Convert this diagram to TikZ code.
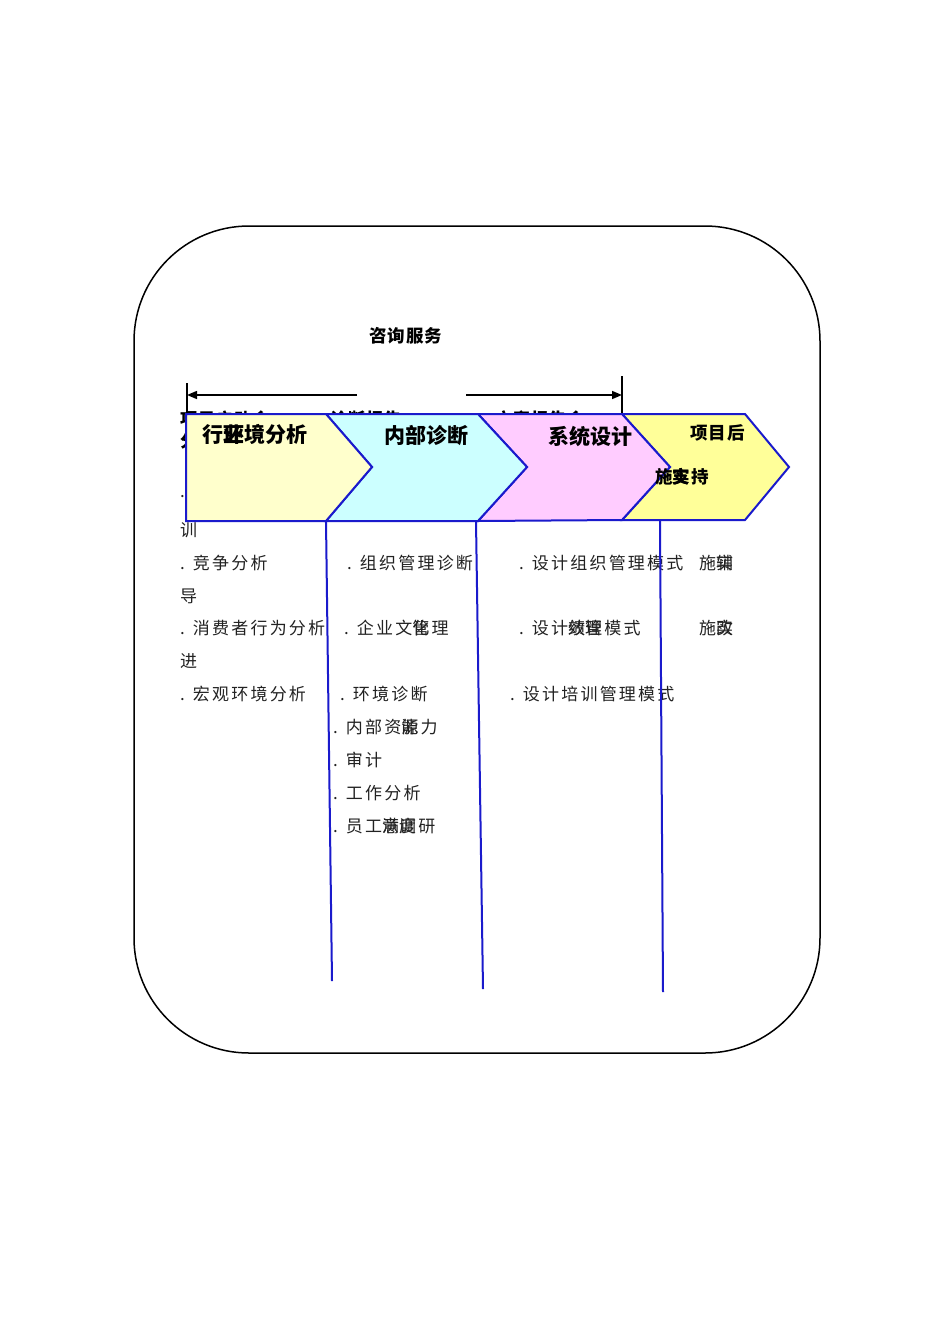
\documentclass[tikz,border=0pt]{standalone}
\usepackage{fontspec}
\setmainfont{Noto Sans CJK SC}
\newfontfamily\cjk{Noto Sans CJK SC}
\newfontfamily\cjksp[LetterSpace=13]{Noto Sans CJK SC}
\newfontfamily\cjkhs[LetterSpace=6]{Noto Sans CJK SC}
\usetikzlibrary{arrows.meta}
\definecolor{chevA}{HTML}{FFFFCC}
\definecolor{chevB}{HTML}{CCFFFF}
\definecolor{chevC}{HTML}{FFCCFF}
\definecolor{chevD}{HTML}{FFFF99}
\definecolor{edgeblue}{HTML}{1A1ACC}
\definecolor{itemgray}{HTML}{222222}
\newcommand\ov[2]{\rlap{#1}#2}
\tikzset{
  item/.style={anchor=west, inner sep=0pt, text=itemgray, font=\cjksp\fontsize{17}{17}\selectfont},
  headbig/.style={anchor=west, inner sep=0pt, font=\cjk\bfseries\fontsize{21}{21}\selectfont},
  headsmall/.style={anchor=west, inner sep=0pt, font=\cjkhs\bfseries\fontsize{17.5}{17.5}\selectfont},
  hidden/.style={anchor=west, inner sep=0pt, font=\cjkhs\bfseries\fontsize{17}{17}\selectfont},
  chev/.style={draw=edgeblue, line width=2pt, line join=miter},
  stem/.style={draw=edgeblue, line width=2pt},
  dim/.style={draw=black, line width=1.5pt, -{Triangle[length=10pt,width=8pt]}},
  tick/.style={draw=black, line width=1.5pt},
  frame/.style={draw=black, line width=1.5pt, rounded corners=115pt}
}
\begin{document}
\begin{tikzpicture}[x=1pt,y=-1pt]
\useasboundingbox (0,0) rectangle (950,1344);
\fill[white] (0,0) rectangle (950,1344);
% outer frame
\draw[frame] (134,226) rectangle (820,1053);
% title
\node[headsmall] (title) at (369,336) {咨询服务};
% dimension arrows
\coordinate (la) at (357,395);
\coordinate (lb) at (187,395);
\coordinate (ra) at (466,395);
\coordinate (rb) at (622,395);
\coordinate (lt1) at (187,383);
\coordinate (lt2) at (187,414);
\coordinate (rt1) at (622,376);
\coordinate (rt2) at (622,414);
\draw[dim] (la) -- (lb);
\draw[dim] (ra) -- (rb);
\draw[tick] (lt1) -- (lt2);
\draw[tick] (rt1) -- (rt2);
% texts hidden behind chevrons
\node[hidden] (h1) at (180,419) {项目启动会};
\node[hidden] (h2) at (180,441) {分};
\node[hidden] (h3) at (330,419) {诊断报告};
\node[hidden] (h4) at (495,419) {方案报告会};
\node[item] (h5) at (180,497) {.};
% column texts
\node[item] (a1) at (180,530) {训};
\node[item] (a2) at (180,563) {. 竞争分析};
\node[item] (a3) at (180,596) {导};
\node[item] (a4) at (180,628) {. 消费者行为分析};
\node[item] (a5) at (180,661) {进};
\node[item] (a6) at (180,694) {. 宏观环境分析};
\node[item] (b1) at (347,563) {. 组织管理诊断};
\node[item] (b2) at (344,628) {. 企业文\ov{化}{管}理};
\node[item] (b3) at (340,694) {. 环境诊断};
\node[item] (b4) at (333,727) {. 内部资\ov{源}{能}力};
\node[item] (b5) at (333,760) {. 审计};
\node[item] (b6) at (333,793) {. 工作分析};
\node[item] (b7) at (333,826) {. 员工\ov{满}{意}\ov{度}{调}研};
\node[item] (c1) at (519,563) {. 设计组织管理模式};
\node[item] (c2) at (519,628) {. 设计\ov{绩}{效}\ov{管}{理}模式};
\node[item] (c3) at (510,694) {. 设计培训管理模式};
\node[item] (d1) at (699,563) {施\ov{实}{辅}};
\node[item] (d2) at (699,628) {施\ov{实}{改}};
% chevrons
\draw[chev, fill=chevD] (622,414) -- (745,414) -- (789,467) -- (745,520) -- (622,520) -- (670,467) -- cycle;
\draw[chev, fill=chevC] (478,414) -- (622,414) -- (670,467) -- (622,520) -- (478,521) -- (527,467) -- cycle;
\draw[chev, fill=chevB] (326,414) -- (478,414) -- (527,467) -- (478,521) -- (326,521) -- (372,467) -- cycle;
\draw[chev, fill=chevA] (186,414) -- (326,414) -- (372,467) -- (326,521) -- (186,521) -- cycle;
% chevron labels
\node[headbig] (p1) at (202,434) {行\ov{业}{环}境分析};
\node[headbig] (p2) at (384,436) {内部诊断};
\node[headbig] (p3) at (548,436) {系统设计};
\node[headsmall] (p4) at (690,433) {项目后};
\node[headsmall] (p5) at (655,477) {施\ov{实}{支}持};
% stems
\coordinate (s1a) at (326,521);
\coordinate (s1b) at (332,981);
\coordinate (s2a) at (476,521);
\coordinate (s2b) at (483,989);
\coordinate (s3a) at (660,521);
\coordinate (s3b) at (663,992);
\draw[stem] (s1a) -- (s1b);
\draw[stem] (s2a) -- (s2b);
\draw[stem] (s3a) -- (s3b);
\end{tikzpicture}
\end{document}
